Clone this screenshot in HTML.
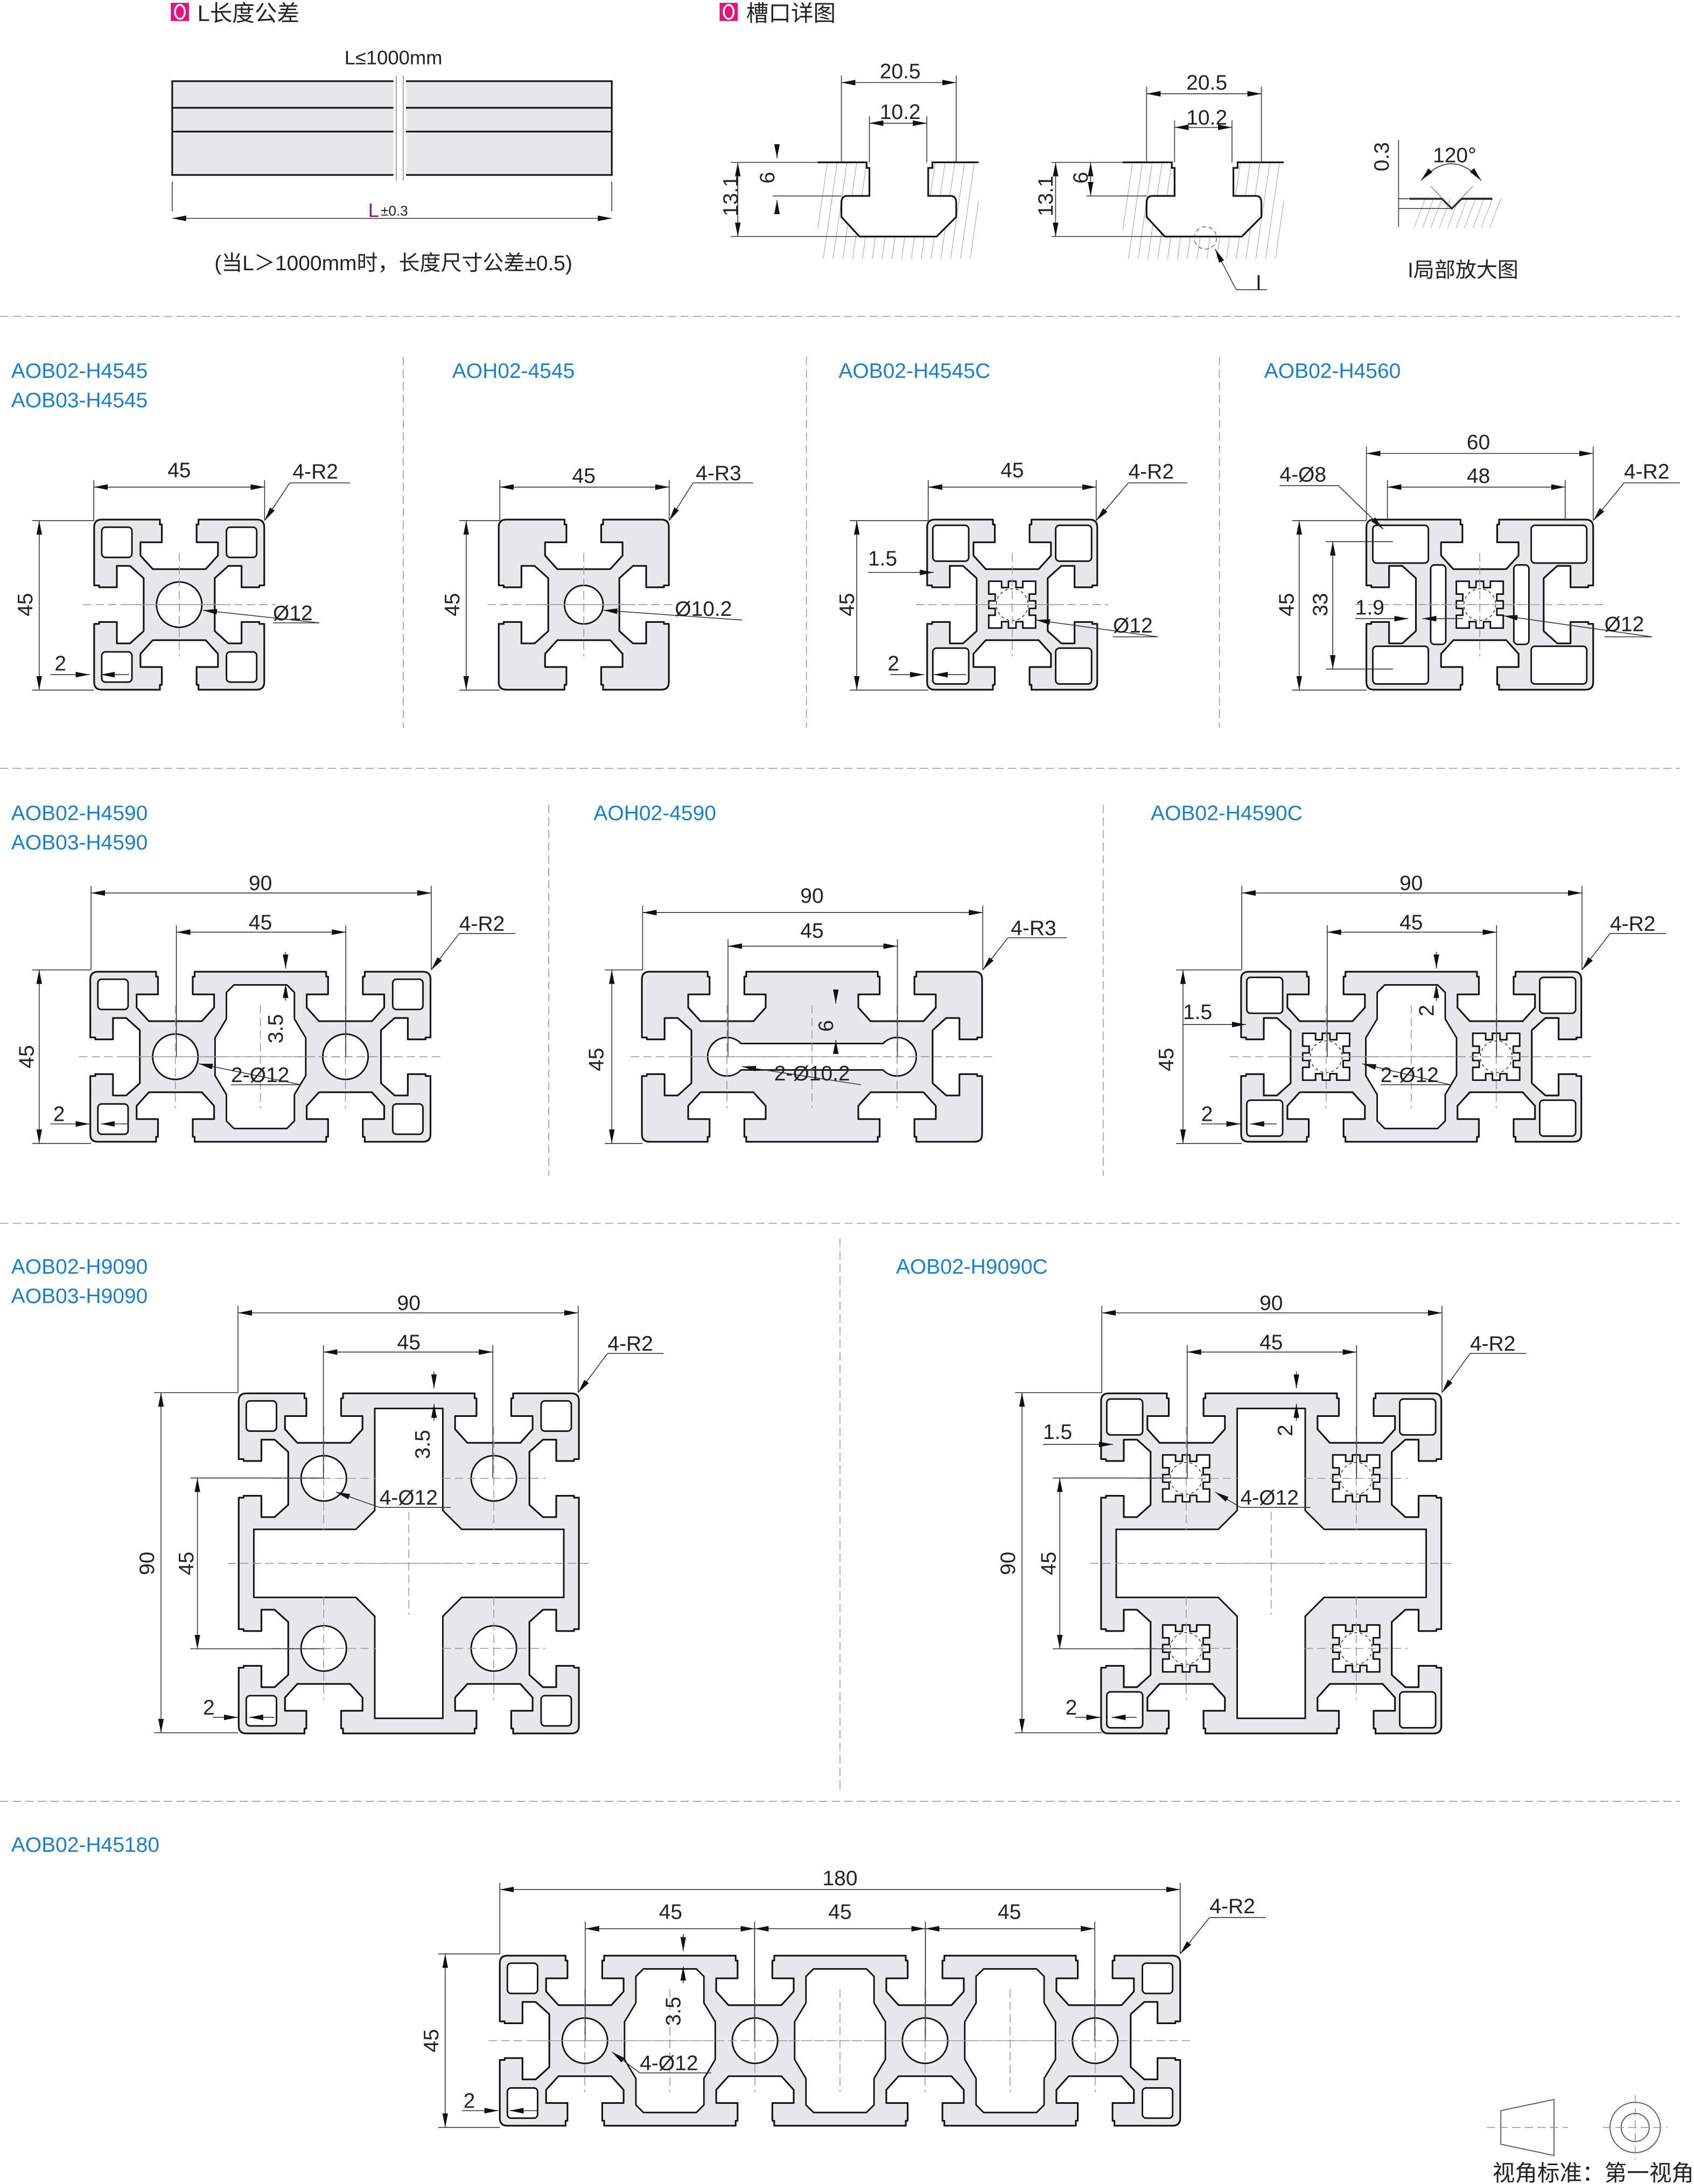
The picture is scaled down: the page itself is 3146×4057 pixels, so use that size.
<!DOCTYPE html>
<html><head><meta charset="utf-8"><style>
html,body{margin:0;padding:0;background:#fff}
svg{display:block}
text{font-family:"Liberation Sans","Noto Sans CJK SC",sans-serif;fill:#222}
.b{fill:#1f7fc4;font-size:15px}
.d{font-size:15px}
</style></head><body>
<svg id="s" xmlns="http://www.w3.org/2000/svg" width="3146" height="4057" viewBox="0 0 1210 1560.4">
<defs>
<marker id="a" viewBox="0 0 10 4" refX="10" refY="2" markerWidth="10" markerHeight="4" markerUnits="userSpaceOnUse" orient="auto-start-reverse"><path d="M0,0 L10,2 L0,4 Z" fill="#111"/></marker>
</defs>
<g id="g"></g>
<!-- header -->
<rect x="122" y="2" width="13" height="13" fill="#e0157e"/><ellipse cx="128.5" cy="8.5" rx="3.5" ry="5" fill="none" stroke="#fff" stroke-width="1.3"/>
<text x="141" y="15" font-size="16">L长度公差</text>
<rect x="514" y="2" width="13" height="13" fill="#e0157e"/><ellipse cx="520.5" cy="8.5" rx="3.5" ry="5" fill="none" stroke="#fff" stroke-width="1.3"/>
<text x="533" y="15" font-size="16">槽口详图</text>
<text x="281" y="46" font-size="14" text-anchor="middle">L≤1000mm</text>
<text x="263" y="155" font-size="14" style="fill:#8a1a7a">L</text><text x="272" y="154" font-size="10">±0.3</text>
<text x="281" y="193" font-size="15" text-anchor="middle">(当L＞1000mm时，长度尺寸公差±0.5)</text>
<text class="d" x="643" y="56" text-anchor="middle">20.5</text>
<text class="d" x="643" y="85" text-anchor="middle">10.2</text>
<text class="d" transform="translate(527,140) rotate(-90)" text-anchor="middle">13.1</text>
<text class="d" transform="translate(553,127) rotate(-90)" text-anchor="middle">6</text>
<text class="d" x="862" y="64" text-anchor="middle">20.5</text>
<text class="d" x="862" y="89" text-anchor="middle">10.2</text>
<text class="d" transform="translate(752,140) rotate(-90)" text-anchor="middle">13.1</text>
<text class="d" transform="translate(777,127) rotate(-90)" text-anchor="middle">6</text>
<text class="d" x="899" y="207" text-anchor="middle">I</text>
<text class="d" transform="translate(992,112) rotate(-90)" text-anchor="middle">0.3</text>
<text class="d" x="1039" y="116" text-anchor="middle">120°</text>
<text class="d" x="1045" y="198" text-anchor="middle">I局部放大图</text>
<!-- row1 -->
<text class="b" x="8" y="270">AOB02-H4545</text><text class="b" x="8" y="291">AOB03-H4545</text>
<text class="b" x="323" y="270">AOH02-4545</text>
<text class="b" x="599" y="270">AOB02-H4545C</text>
<text class="b" x="903" y="270">AOB02-H4560</text>
<text class="d" x="128" y="341" text-anchor="middle">45</text>
<text class="d" x="209" y="342">4-R2</text>
<text class="d" transform="translate(23,432) rotate(-90)" text-anchor="middle">45</text>
<text class="d" x="39" y="479">2</text>
<text class="d" x="195" y="443">Ø12</text>
<text class="d" x="417" y="345" text-anchor="middle">45</text>
<text class="d" x="497" y="343">4-R3</text>
<text class="d" transform="translate(328,432) rotate(-90)" text-anchor="middle">45</text>
<text class="d" x="482" y="440">Ø10.2</text>
<text class="d" x="723" y="341" text-anchor="middle">45</text>
<text class="d" x="806" y="342">4-R2</text>
<text class="d" transform="translate(610,432) rotate(-90)" text-anchor="middle">45</text>
<text class="d" x="620" y="404">1.5</text>
<text class="d" x="634" y="479">2</text>
<text class="d" x="795" y="452">Ø12</text>
<text class="d" x="1056" y="321" text-anchor="middle">60</text>
<text class="d" x="1056" y="345" text-anchor="middle">48</text>
<text class="d" x="914" y="344">4-Ø8</text>
<text class="d" x="1160" y="342">4-R2</text>
<text class="d" transform="translate(924,432) rotate(-90)" text-anchor="middle">45</text>
<text class="d" transform="translate(948,432) rotate(-90)" text-anchor="middle">33</text>
<text class="d" x="968" y="439">1.9</text>
<text class="d" x="1146" y="451">Ø12</text>
<!-- row2 -->
<text class="b" x="8" y="586">AOB02-H4590</text><text class="b" x="8" y="607">AOB03-H4590</text>
<text class="b" x="424" y="586">AOH02-4590</text>
<text class="b" x="822" y="586">AOB02-H4590C</text>
<text class="d" x="186" y="636" text-anchor="middle">90</text>
<text class="d" x="186" y="664" text-anchor="middle">45</text>
<text class="d" x="328" y="665">4-R2</text>
<text class="d" transform="translate(24,755) rotate(-90)" text-anchor="middle">45</text>
<text class="d" transform="translate(202,735) rotate(-90)" text-anchor="middle">3.5</text>
<text class="d" x="165" y="773">2-Ø12</text>
<text class="d" x="38" y="801">2</text>
<text class="d" x="580" y="645" text-anchor="middle">90</text>
<text class="d" x="580" y="670" text-anchor="middle">45</text>
<text class="d" x="722" y="668">4-R3</text>
<text class="d" transform="translate(431,757) rotate(-90)" text-anchor="middle">45</text>
<text class="d" transform="translate(595,733) rotate(-90)" text-anchor="middle">6</text>
<text class="d" x="553" y="772">2-Ø10.2</text>
<text class="d" x="1008" y="636" text-anchor="middle">90</text>
<text class="d" x="1008" y="664" text-anchor="middle">45</text>
<text class="d" x="1150" y="665">4-R2</text>
<text class="d" transform="translate(838,757) rotate(-90)" text-anchor="middle">45</text>
<text class="d" x="845" y="728">1.5</text>
<text class="d" transform="translate(1024,722) rotate(-90)" text-anchor="middle">2</text>
<text class="d" x="986" y="773">2-Ø12</text>
<text class="d" x="858" y="801">2</text>
<!-- row3 -->
<text class="b" x="8" y="910">AOB02-H9090</text><text class="b" x="8" y="931">AOB03-H9090</text>
<text class="b" x="640" y="910">AOB02-H9090C</text>
<text class="d" x="292" y="936" text-anchor="middle">90</text>
<text class="d" x="292" y="964" text-anchor="middle">45</text>
<text class="d" x="434" y="965">4-R2</text>
<text class="d" transform="translate(110,1117) rotate(-90)" text-anchor="middle">90</text>
<text class="d" transform="translate(138,1117) rotate(-90)" text-anchor="middle">45</text>
<text class="d" transform="translate(307,1032) rotate(-90)" text-anchor="middle">3.5</text>
<text class="d" x="271" y="1075">4-Ø12</text>
<text class="d" x="145" y="1225">2</text>
<text class="d" x="908" y="936" text-anchor="middle">90</text>
<text class="d" x="908" y="964" text-anchor="middle">45</text>
<text class="d" x="1050" y="965">4-R2</text>
<text class="d" transform="translate(725,1117) rotate(-90)" text-anchor="middle">90</text>
<text class="d" transform="translate(754,1117) rotate(-90)" text-anchor="middle">45</text>
<text class="d" x="745" y="1028">1.5</text>
<text class="d" transform="translate(923,1022) rotate(-90)" text-anchor="middle">2</text>
<text class="d" x="886" y="1075">4-Ø12</text>
<text class="d" x="761" y="1225">2</text>
<!-- row4 -->
<text class="b" x="8" y="1323">AOB02-H45180</text>
<text class="d" x="600" y="1347" text-anchor="middle">180</text>
<text class="d" x="479" y="1371" text-anchor="middle">45</text>
<text class="d" x="600" y="1371" text-anchor="middle">45</text>
<text class="d" x="721" y="1371" text-anchor="middle">45</text>
<text class="d" x="864" y="1367">4-R2</text>
<text class="d" transform="translate(313,1458) rotate(-90)" text-anchor="middle">45</text>
<text class="d" transform="translate(486,1437) rotate(-90)" text-anchor="middle">3.5</text>
<text class="d" x="457" y="1479">4-Ø12</text>
<text class="d" x="331" y="1506">2</text>
<text x="1210" y="1558" font-size="16" text-anchor="end">视角标准：第一视角</text>
</svg>
<script>
const NS='http://www.w3.org/2000/svg',G=document.getElementById('g');
function el(t,a){const e=document.createElementNS(NS,t);for(const k in a)e.setAttribute(k,a[k]);G.appendChild(e);return e;}
function ln(x1,y1,x2,y2,o={}){return el('line',Object.assign({x1,y1,x2,y2,stroke:'#333','stroke-width':0.6},o));}
function dashed(x1,y1,x2,y2){ln(x1,y1,x2,y2,{stroke:'#999','stroke-width':0.6,'stroke-dasharray':'6 3'});}
function arr(x1,y1,x2,y2){ln(x1,y1,x2,y2,{'marker-start':'url(#a)','marker-end':'url(#a)'});}
function dimH(x1,x2,y,ey){arr(x1,y,x2,y);ln(x1,y-5,x1,ey);ln(x2,y-5,x2,ey);}
function dimV(y1,y2,x,ex){arr(x,y1,x,y2);ln(x-5,y1,ex,y1);ln(x-5,y2,ex,y2);}
function lead(x1,y1,x2,y2,tx){ln(x1,y1,x2,y2,{'marker-end':'url(#a)'});ln(x1,y1,tx,y1);}
// separators
[226,549,874,1287].forEach(y=>dashed(0,y,1200,y));
[[288,255,520],[576,255,520],[871,255,520],[392,575,840],[788,575,840],[600,885,1278]].forEach(a=>dashed(a[0],a[1],a[0],a[2]));
// header bar
el('rect',{x:123,y:58,width:314,height:67,fill:'#e8e8ea',stroke:'#111','stroke-width':1.2});
ln(123,77,437,77,{stroke:'#111','stroke-width':1.2});ln(123,94,437,94,{stroke:'#111','stroke-width':1.2});
el('rect',{x:281,y:54,width:9,height:75,fill:'#fff'});
ln(283,54,283,129,{stroke:'#777','stroke-width':0.5});ln(288,54,288,129,{stroke:'#777','stroke-width':0.5});
dimH(123,437,156,130);
// slot details
function slotDetail(dx){
 for(let x=584+dx-10;x<699+dx;x+=7){ln(x,185,x+10,116,{stroke:'#aaa','stroke-width':0.45});}
 el('rect',{x:570+dx,y:100,width:14,height:90,fill:'#fff'});
 el('rect',{x:699+dx,y:100,width:14,height:90,fill:'#fff'});
 el('path',{d:`M${621+dx},114 V140 H${605+dx} Q${601+dx},140 ${601+dx},145 V155 L${614+dx},169 H${669+dx} L${683+dx},155 V145 Q${683+dx},140 ${679+dx},140 H${663+dx} V114 Z`,fill:'#fff',stroke:'none'});
 el('path',{d:`M${584+dx},116 H${619+dx} V${120} H${621+dx} V140 H${605+dx} Q${601+dx},140 ${601+dx},145 V155 L${614+dx},169 H${669+dx} L${683+dx},155 V145 Q${683+dx},140 ${679+dx},140 H${663+dx} V120 H${666+dx} V116 H${699+dx}`,fill:'none',stroke:'#111','stroke-width':1.2});
}
slotDetail(0);slotDetail(218);
dimH(601,683,59,116);dimH(621,662,88,116);
arr(527,116,527,169);ln(522,116,584,116);ln(522,169,614,169);
ln(555,103,555,113,{'marker-end':'url(#a)'});ln(555,153,555,143,{'marker-end':'url(#a)'});ln(552,140,601,140);
dimH(819,901,67,116);dimH(839,880,91,116);
arr(754,116,754,169);ln(751,116,802,116);ln(751,169,832,169);
arr(779,116,779,140);ln(776,140,819,140);
el('circle',{cx:861,cy:170,r:8,fill:'none',stroke:'#555','stroke-width':0.5,'stroke-dasharray':'3 2'});
ln(883,207,868,178,{'marker-end':'url(#a)'});ln(883,207,905,207);
// 120 detail
for(let x=1010;x<1066;x+=6)ln(x,163,x+8,142,{stroke:'#aaa','stroke-width':0.4});
el('path',{d:'M1007,142 H1030 L1037,149 L1044,142 H1066',fill:'none',stroke:'#111','stroke-width':1.3});
ln(1022,133,1037,149,{stroke:'#555','stroke-width':0.4});ln(1052,133,1037,149,{stroke:'#555','stroke-width':0.4});
el('path',{d:'M1015,129 Q1037,105 1058,129',fill:'none',stroke:'#333','stroke-width':0.6,'marker-start':'url(#a)','marker-end':'url(#a)'});
ln(999,100,999,162,{stroke:'#333','stroke-width':0.6});ln(999,142,1030,142);ln(999,149,1037,149);
// profiles
const S=2.7;
const T=[[-5.1,0],[-5.1,1.3],[-4.6,1.3],[-4.6,6],[-10.25,6],[-10.25,9.5],[-7,13.1],[7,13.1],[10.25,9.5],[10.25,6],[4.6,6],[4.6,1.3],[5.1,1.3],[5.1,0]];
function P(o){
 const {cx,cy,W,H,sx,sy}=o;const x0=cx-W/2*S,x1=cx+W/2*S,y0=cy-H/2*S,y1=cy+H/2*S;const r=2*S;
 let p=[];
 p.push([x0,y0+r]);p.push(['Q',x0,y0,x0+r,y0]);
 sx.slice().sort((a,b)=>a-b).forEach(s=>T.forEach(([t,n])=>p.push([cx+(s+t)*S,y0+n*S])));
 p.push([x1-r,y0]);p.push(['Q',x1,y0,x1,y0+r]);
 sy.slice().sort((a,b)=>a-b).forEach(s=>T.forEach(([t,n])=>p.push([x1-n*S,cy+(s+t)*S])));
 p.push([x1,y1-r]);p.push(['Q',x1,y1,x1-r,y1]);
 sx.slice().sort((a,b)=>b-a).forEach(s=>T.forEach(([t,n])=>p.push([cx+(s-t)*S,y1-n*S])));
 p.push([x0+r,y1]);p.push(['Q',x0,y1,x0,y1-r]);
 sy.slice().sort((a,b)=>b-a).forEach(s=>T.forEach(([t,n])=>p.push([x0+n*S,cy+(s-t)*S])));
 let d='M'+p[0][0]+','+p[0][1];
 for(let i=1;i<p.length;i++){const q=p[i];if(q[0]==='Q')d+=`Q${q[1]},${q[2]} ${q[3]},${q[4]}`;else d+=`L${q[0]},${q[1]}`;}
 d+='Z';
 el('path',{d,fill:'#e8e8ea',stroke:'#111','stroke-width':1.2,'stroke-linejoin':'round'});
 const hp={fill:'#fff',stroke:'#111','stroke-width':1.1};
 const X=v=>cx+v*S,Y=v=>cy+v*S;
 (o.holes||[]).forEach(h=>{
  if(h[0]==='c')el('circle',Object.assign({cx:X(h[1]),cy:Y(h[2]),r:h[3]*S},hp));
  else if(h[0]==='r')el('rect',Object.assign({x:X(h[1]),y:Y(h[2]),width:(h[3]-h[1])*S,height:(h[4]-h[2])*S,rx:(h[5]||1)*S},hp));
  else if(h[0]==='p')el('path',Object.assign({d:h[1].map((q,i)=>(i?'L':'M')+X(q[0])+','+Y(q[1])).join('')+'Z'},hp));
  else if(h[0]==='cap'){const R=5.1*S,w=3.5*S,xx=Math.sqrt(R*R-w*w),a=22.5*S;
   el('path',Object.assign({d:`M${cx-a+xx},${cy-w} L${cx+a-xx},${cy-w} A${R},${R} 0 1 1 ${cx+a-xx},${cy+w} L${cx-a+xx},${cy+w} A${R},${R} 0 1 1 ${cx-a+xx},${cy-w} Z`},hp));}
  else if(h[0]==='star'){const c=h[1],e=h[2],a=6.2;const pts=[];
   const seq=[[-a,-a],[-2.8,-a],[-2.8,-4.5],[-1,-4.5],[-1,-a],[1,-a],[1,-4.5],[2.8,-4.5],[2.8,-a],[a,-a]];
   for(let k=0;k<4;k++){seq.forEach(([u,v])=>{let x=u,y=v;for(let j=0;j<k;j++){const t=x;x=-y;y=t;}pts.push([c+x,e+y]);});}
   el('path',Object.assign({d:pts.map((q,i)=>(i?'L':'M')+X(q[0])+','+Y(q[1])).join('')+'Z'},hp));
   el('circle',{cx:X(c),cy:Y(e),r:4.2*S,fill:'none',stroke:'#111','stroke-width':0.5,'stroke-dasharray':'2 2'});}
 });
 (o.cl||[[0,0]]).forEach(([a,b])=>{dashed(X(a)-30*S/2.2,Y(b),X(a)+30*S/2.2,Y(b));dashed(X(a),Y(b)-30*S/2.2,X(a),Y(b)+30*S/2.2);});
 dashed(x0-8,cy,x1+8,cy);
}
const corners=(W,H,a=8,inset=2)=>[[-1,-1],[1,-1],[-1,1],[1,1]].map(([i,j])=>{const cx=i*(W/2-inset-a/2),cy=j*(H/2-inset-a/2);return['r',cx-a/2,cy-a/2,cx+a/2,cy+a/2,1];});
const cavity=x=>['p',[[x-9,-17],[x-7,-19],[x+7,-19],[x+9,-17],[x+9,-10],[x+12,-5],[x+12,5],[x+9,10],[x+9,17],[x+7,19],[x-7,19],[x-9,17],[x-9,10],[x-12,5],[x-12,-5],[x-9,-10]]];
// 4545
P({cx:128,cy:432,W:45,H:45,sx:[0],sy:[0],holes:[...corners(45,45),['c',0,0,6]]});
dimH(67,189,348,372);lead(207,345,189,372,250);dimV(372,493,28,67);
ln(36,482,64,482,{'marker-end':'url(#a)'});ln(92,482,72,482,{'marker-end':'url(#a)'});
ln(228,445,145,436,{'marker-end':'url(#a)'});ln(195,445,228,445);
// AOH 4545
P({cx:417,cy:432,W:45,H:45,sx:[0],sy:[0],holes:[['c',0,0,5.1]]});
dimH(357,478,348,372);lead(495,345,478,372,538);dimV(372,493,333,357);
ln(530,443,431,436,{'marker-end':'url(#a)'});
// 4545C
P({cx:723,cy:432,W:45,H:45,sx:[0],sy:[0],holes:[...corners(45,45,9.5,1.5),['star',0,0]]});
dimH(663,783,348,372);lead(806,345,783,372,848);dimV(372,493,612,663);
ln(648,409,667,409,{'marker-end':'url(#a)'});ln(620,409,648,409);
ln(636,482,660,482,{'marker-end':'url(#a)'});ln(690,482,667,482,{'marker-end':'url(#a)'});
ln(827,455,740,443,{'marker-end':'url(#a)'});ln(795,455,827,455);
// 4560
P({cx:1057,cy:432,W:60,H:45,sx:[0],sy:[0],holes:[['r',-28.3,-21,-13.6,-11],['r',13.6,-21,28.3,-11],['r',-28.3,11,-13.6,21],['r',13.6,11,28.3,21],['r',-13,-10.5,-9,10.5],['r',9,-10.5,13,10.5],['star',0,0]]});
dimH(976,1138,324,372);dimH(991,1118,348,372);lead(956,347,988,378,914);lead(1160,345,1138,372,1200);
dimV(372,493,928,976);dimV(387,478,952,995);
ln(968,442,1006,442,{'marker-end':'url(#a)'});ln(1045,442,1016,442,{'marker-end':'url(#a)'});
ln(1180,455,1074,440,{'marker-end':'url(#a)'});ln(1146,455,1180,455);
// 4590
P({cx:186,cy:755,W:90,H:45,sx:[-22.5,22.5],sy:[0],holes:[...corners(90,45),['c',-22.5,0,6],['c',22.5,0,6],cavity(0)],cl:[[-22.5,0],[22.5,0],[0,0]]});
dimH(65,308,638,693);dimH(126,247,666,755);lead(328,667,308,693,368);dimV(693,817,28,65);
ln(204,680,204,692,{'marker-end':'url(#a)'});ln(204,715,204,703,{'marker-end':'url(#a)'});
ln(215,775,142,760,{'marker-end':'url(#a)'});ln(165,775,215,775);
ln(36,803,64,803,{'marker-end':'url(#a)'});ln(92,803,72,803,{'marker-end':'url(#a)'});
// AOH 4590
P({cx:580,cy:755,W:90,H:45,sx:[-22.5,22.5],sy:[0],holes:[['cap']],cl:[[-22.5,0],[22.5,0],[0,0]]});
dimH(459,702,652,693);dimH(520,641,676,755);lead(720,670,702,693,762);dimV(693,817,437,459);
ln(597,707,597,717,{'marker-end':'url(#a)'});ln(597,753,597,743,{'marker-end':'url(#a)'});
ln(615,775,530,762,{'marker-end':'url(#a)'});
// 4590C
P({cx:1008,cy:755,W:90,H:45,sx:[-22.5,22.5],sy:[0],holes:[...corners(90,45,9.5,1.5),['star',-22.5,0],['star',22.5,0],cavity(0)],cl:[[-22.5,0],[22.5,0],[0,0]]});
dimH(887,1130,638,693);dimH(948,1069,666,755);lead(1150,667,1130,693,1190);dimV(693,817,845,887);
ln(870,732,890,732,{'marker-end':'url(#a)'});ln(845,732,870,732);
ln(1026,680,1026,692,{'marker-end':'url(#a)'});ln(1026,715,1026,703,{'marker-end':'url(#a)'});
ln(1036,775,973,760,{'marker-end':'url(#a)'});ln(986,775,1036,775);
ln(858,803,886,803,{'marker-end':'url(#a)'});ln(912,803,893,803,{'marker-end':'url(#a)'});
// 9090
const cross=['p',[[-9,-41],[9,-41],[9,-14],[14,-9],[41,-9],[41,9],[14,9],[9,14],[9,41],[-9,41],[-9,14],[-14,9],[-41,9],[-41,-9],[-14,-9],[-9,-14]]];
const m4=[[-22.5,-22.5],[22.5,-22.5],[-22.5,22.5],[22.5,22.5]];
P({cx:292,cy:1117,W:90,H:90,sx:[-22.5,22.5],sy:[-22.5,22.5],holes:[...corners(90,90),...m4.map(m=>['c',m[0],m[1],6]),cross],cl:m4.concat([[0,0]])});
dimH(170,413,938,995);dimH(231,352,966,1056);lead(434,967,413,995,474);
dimV(995,1238,115,170);dimV(1056,1178,141,231);
ln(310,980,310,992,{'marker-end':'url(#a)'});ln(310,1015,310,1003,{'marker-end':'url(#a)'});
ln(271,1077,240,1066,{'marker-end':'url(#a)'});ln(271,1077,322,1077);
ln(152,1227,170,1227,{'marker-end':'url(#a)'});ln(196,1227,178,1227,{'marker-end':'url(#a)'});
// 9090C
P({cx:908,cy:1117,W:90,H:90,sx:[-22.5,22.5],sy:[-22.5,22.5],holes:[...corners(90,90,9.5,1.5),...m4.map(m=>['star',m[0],m[1]]),cross],cl:m4.concat([[0,0]])});
dimH(787,1030,938,995);dimH(848,969,966,1056);lead(1050,967,1030,995,1090);
dimV(995,1238,730,787);dimV(1056,1178,757,848);
ln(770,1032,795,1032,{'marker-end':'url(#a)'});ln(745,1032,770,1032);
ln(926,980,926,992,{'marker-end':'url(#a)'});ln(926,1015,926,1003,{'marker-end':'url(#a)'});
ln(886,1077,868,1066,{'marker-end':'url(#a)'});ln(886,1077,936,1077);
ln(768,1227,786,1227,{'marker-end':'url(#a)'});ln(812,1227,794,1227,{'marker-end':'url(#a)'});
// 45180
P({cx:600,cy:1458,W:180,H:45,sx:[-67.5,-22.5,22.5,67.5],sy:[0],holes:[...corners(180,45),...[-67.5,-22.5,22.5,67.5].map(x=>['c',x,0,6]),cavity(-45),cavity(0),cavity(45)],cl:[[-67.5,0],[-22.5,0],[22.5,0],[67.5,0],[-45,0],[0,0],[45,0]]});
dimH(357,843,1350,1396);dimH(418,539,1378,1458);dimH(539,661,1378,1458);dimH(661,782,1378,1458);
lead(864,1370,843,1396,904);dimV(1396,1520,318,357);
ln(488,1382,488,1394,{'marker-end':'url(#a)'});ln(488,1417,488,1405,{'marker-end':'url(#a)'});
ln(457,1481,437,1466,{'marker-end':'url(#a)'});ln(457,1481,508,1481);
ln(330,1508,356,1508,{'marker-end':'url(#a)'});ln(384,1508,364,1508,{'marker-end':'url(#a)'});
// footer icons
el('path',{d:'M1072,1508 L1110,1500 L1110,1540 L1072,1532 Z',fill:'none',stroke:'#555','stroke-width':0.7});
dashed(1062,1520,1120,1520);
el('circle',{cx:1168,cy:1520,r:18,fill:'none',stroke:'#555','stroke-width':0.7});
el('circle',{cx:1168,cy:1520,r:10,fill:'none',stroke:'#555','stroke-width':0.7});
dashed(1145,1520,1191,1520);dashed(1168,1497,1168,1543);
</script>
</body></html>
